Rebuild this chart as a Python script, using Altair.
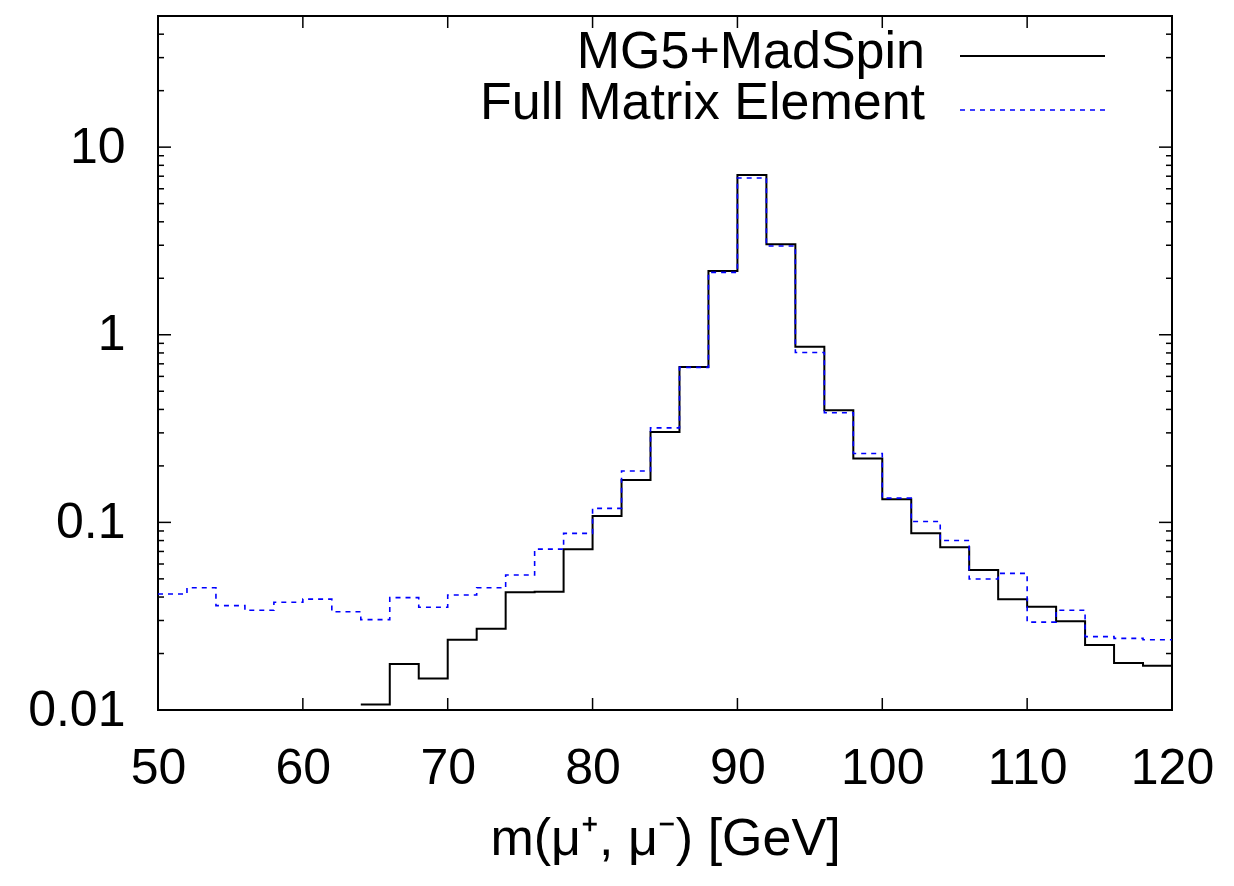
import altair as alt
import pandas as pd

# ---- data ----
bin_left = list(range(50, 120, 2))          # 2 GeV bins, 50..118
x_end = 120

mg5_first_bin = 64                           # below this the curve is under 0.01
mg5_values = [0.0107, 0.0176, 0.0147, 0.0237, 0.0271, 0.0424, 0.0427, 0.072,
              0.108, 0.168, 0.303, 0.674, 2.19, 7.11, 3.04, 0.862, 0.396,
              0.219, 0.133, 0.0874, 0.0736, 0.0557, 0.0389, 0.0355, 0.0297,
              0.0222, 0.0178, 0.0172]

fme_values = [0.0415, 0.0448, 0.0360, 0.0340, 0.0375, 0.0390, 0.0334, 0.0303,
              0.0397, 0.0353, 0.0410, 0.0448, 0.0524, 0.072, 0.0874, 0.1188,
              0.1877, 0.319, 0.67, 2.15, 6.85, 2.97, 0.805, 0.384, 0.233,
              0.1347, 0.101, 0.080, 0.0499, 0.0535, 0.0294, 0.034, 0.0246,
              0.0241, 0.0237]

series_names = ["MG5+MadSpin", "Full Matrix Element"]
y_major = [0.01, 0.1, 1, 10]
y_minor = [m * d for d in [0.01, 0.1, 1, 10] for m in range(2, 10) if m * d < 50]
x_major = [50, 60, 70, 80, 90, 100, 110, 120]
y_domain = [0.01, 50]
x_title = "m(\u03bc\u207a, \u03bc\u207b) [GeV]"

# ---- tables ----
mg5_left = [b for b in bin_left if b >= mg5_first_bin]
mg5_df = pd.DataFrame({"x": mg5_left + [x_end], "y": mg5_values + [mg5_values[-1]]})
fme_df = pd.DataFrame({"x": bin_left + [x_end], "y": fme_values + [fme_values[-1]]})
ymaj_df = pd.DataFrame({"y": y_major})
ymin_df = pd.DataFrame({"y": y_minor})
xmaj_df = pd.DataFrame({"x": x_major})
one = pd.DataFrame({"a": [0]})

W, H = 1014, 694
FONT = "Liberation Sans"
FS = 50
LEG_FS = 52

xscale = alt.Scale(domain=[50, 120], nice=False, zero=False)
yscale = alt.Scale(type="log", domain=y_domain, nice=False)

x_axis = alt.Axis(values=x_major, ticks=False, domain=False, grid=False,
                  labelFont=FONT, labelFontSize=FS, labelColor="black",
                  labelPadding=33, title=x_title, titleFont=FONT,
                  titleFontSize=52, titleFontWeight="normal", titleColor="black",
                  titlePadding=20, labelFlush=False)
y_axis = alt.Axis(values=y_major, format="~g", ticks=False, domain=False,
                  grid=False, labelFont=FONT, labelFontSize=FS,
                  labelColor="black", labelPadding=33, title=None)

mg5_line = alt.Chart(mg5_df).mark_line(
    interpolate="step-after", color="black", strokeWidth=2, clip=True
).encode(x=alt.X("x:Q", scale=xscale, axis=x_axis),
         y=alt.Y("y:Q", scale=yscale, axis=y_axis))

fme_line = alt.Chart(fme_df).mark_line(
    interpolate="step-after", color="#0000ff", strokeWidth=1.6,
    strokeDash=[5, 5], clip=True
).encode(x="x:Q", y="y:Q")

tick_col = "black"
ymaj_l = alt.Chart(ymaj_df).mark_rule(color=tick_col, strokeWidth=1.5).encode(
    y="y:Q", x=alt.value(0), x2=alt.value(13))
ymaj_r = alt.Chart(ymaj_df).mark_rule(color=tick_col, strokeWidth=1.5).encode(
    y="y:Q", x=alt.value(W - 13), x2=alt.value(W))
ymin_l = alt.Chart(ymin_df).mark_rule(color=tick_col, strokeWidth=1.5).encode(
    y="y:Q", x=alt.value(0), x2=alt.value(6))
ymin_r = alt.Chart(ymin_df).mark_rule(color=tick_col, strokeWidth=1.5).encode(
    y="y:Q", x=alt.value(W - 6), x2=alt.value(W))
xmaj_b = alt.Chart(xmaj_df).mark_rule(color=tick_col, strokeWidth=1.5).encode(
    x="x:Q", y=alt.value(H - 12), y2=alt.value(H))
xmaj_t = alt.Chart(xmaj_df).mark_rule(color=tick_col, strokeWidth=1.5).encode(
    x="x:Q", y=alt.value(0), y2=alt.value(12))

# legend (manual, gnuplot style: right-aligned text + sample line)
leg_text1 = alt.Chart(one).mark_text(
    align="right", baseline="alphabetic", font=FONT, fontSize=LEG_FS, color="black"
).encode(x=alt.value(767), y=alt.value(52), text=alt.value(series_names[0]))
leg_text2 = alt.Chart(one).mark_text(
    align="right", baseline="alphabetic", font=FONT, fontSize=LEG_FS, color="black"
).encode(x=alt.value(767), y=alt.value(103), text=alt.value(series_names[1]))
leg_line1 = alt.Chart(one).mark_rule(color="black", strokeWidth=2).encode(
    x=alt.value(802), x2=alt.value(947), y=alt.value(40))
leg_line2 = alt.Chart(one).mark_rule(color="#0000ff", strokeWidth=1.6,
                                     strokeDash=[5, 5]).encode(
    x=alt.value(802), x2=alt.value(947), y=alt.value(94))

chart = alt.layer(
    mg5_line, fme_line,
    ymaj_l, ymaj_r, ymin_l, ymin_r, xmaj_b, xmaj_t,
    leg_text1, leg_text2, leg_line1, leg_line2
).properties(
    width=W, height=H,
    autosize=alt.AutoSizeParams(type="none"),
    padding={"left": 150, "top": 8, "right": 50, "bottom": 160},
    background="white"
).configure_view(stroke="black", strokeWidth=2)

chart.save("out.html", embed_options={"renderer": "svg", "actions": False})
